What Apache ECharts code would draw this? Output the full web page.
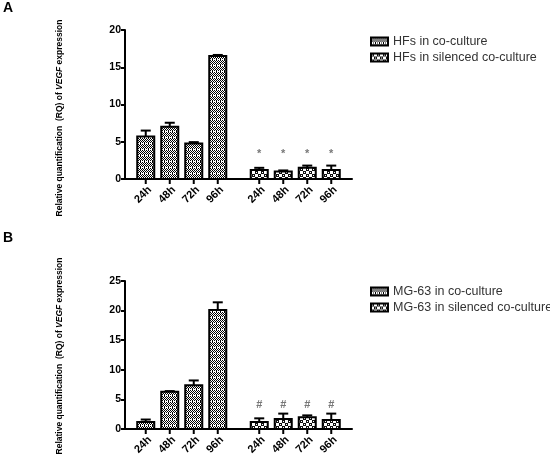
<!DOCTYPE html>
<html><head><meta charset="utf-8">
<script src="https://cdn.jsdelivr.net/npm/echarts@6/dist/echarts.min.js"></script>
<style>html,body{margin:0;padding:0;background:#fff}#c{width:550px;height:465px}</style>
</head><body><div id="c"></div>
<script>
// ---- data ----
const timeLabels = ['24h', '48h', '72h', '96h'];
const groupKeys = ['co', 'silenced'];
const hfCo = [5.7, 7.0, 4.75, 16.5];
const hfCoErr = [0.8, 0.55, 0.2, 0.15];
const hfSil = [1.2, 1.0, 1.5, 1.2];
const hfSilErr = [0.3, 0.15, 0.3, 0.6];
const hfSilMarks = ['*', '*', '*', '*'];
const hfMarkLevel = 3.3;
const mgCo = [1.2, 6.3, 7.4, 20.1];
const mgCoErr = [0.4, 0.1, 0.8, 1.3];
const mgSil = [1.2, 1.7, 2.0, 1.5];
const mgSilErr = [0.6, 0.9, 0.3, 1.1];
const mgSilMarks = ['#', '#', '#', '#'];
const mgMarkLevel = 4.0;
const hfNames = ['HFs in co-culture', 'HFs in silenced co-culture'];
const mgNames = ['MG-63 in co-culture', 'MG-63 in silenced co-culture'];
const yTicksA = {max: 20, interval: 5};
const yTicksB = {max: 25, interval: 5};

// ---- patterns ----
function makePattern(kind) {
  const cv = document.createElement('canvas');
  if (kind === 'dense') {
    cv.width = 4; cv.height = 6;
    const ctx = cv.getContext('2d');
    ctx.fillStyle = '#fff'; ctx.fillRect(0, 0, 4, 6);
    ctx.fillStyle = '#000';
    for (let y = 0; y < 6; y++) for (let x = 0; x < 4; x++) {
      if (y === 5) { if (x === 0) ctx.fillRect(x, y, 1, 1); continue; }
      if ((x + y) % 2 === 0) ctx.fillRect(x, y, 1, 1);
    }
  } else {
    cv.width = 6; cv.height = 6;
    const ctx = cv.getContext('2d');
    ctx.fillStyle = '#fff'; ctx.fillRect(0, 0, 6, 6);
    ctx.fillStyle = '#111';
    ctx.fillRect(0, 0, 3, 3);
    ctx.fillRect(3, 3, 3, 3);
    ctx.fillStyle = '#fff';
    ctx.fillRect(1, 1, 1, 1);
    ctx.fillRect(4, 4, 1, 1);
  }
  return {image: cv, repeat: 'repeat'};
}
const patDense = makePattern('dense');
const patCheck = makePattern('check');

const STEP = 0.2115;   // bar spacing as fraction of group band
const BARW = 0.15;     // bar width as fraction of group band

function makeRender(fill, marks, markLevel) {
  return function (params, api) {
    const g = api.value(0), t = api.value(1), v = api.value(2), e = api.value(3);
    const base = api.coord([g, 0]);
    const band = api.size([1, 0])[0];
    const cx = base[0] + (t - 1.5) * band * STEP;
    const bw = band * BARW;
    const y0 = base[1];
    const yv = api.coord([g, v])[1];
    const ye = api.coord([g, v + e])[1];
    const children = [
      {type: 'rect', shape: {x: cx - bw / 2, y: yv, width: bw, height: y0 - yv},
       style: {fill: fill, stroke: '#000', lineWidth: 2}},
      {type: 'line', shape: {x1: cx, y1: yv, x2: cx, y2: ye}, style: {stroke: '#000', lineWidth: 2}},
      {type: 'line', shape: {x1: cx - 5, y1: ye, x2: cx + 5, y2: ye}, style: {stroke: '#000', lineWidth: 2}},
      {type: 'line', shape: {x1: cx, y1: y0, x2: cx, y2: y0 + 5}, style: {stroke: '#000', lineWidth: 2}},
      {type: 'text', x: cx + 4, y: y0 + 9, rotation: Math.PI / 4,
       style: {text: timeLabels[t], font: 'bold 11px "Liberation Sans", Arial, sans-serif',
               fill: '#000', align: 'right', verticalAlign: 'middle'}}
    ];
    if (marks) {
      const ym = api.coord([g, markLevel])[1];
      children.push({type: 'text', x: cx, y: ym,
        style: {text: marks[t], font: 'bold 11px "Liberation Sans", Arial, sans-serif', fill: '#777',
                align: 'center', verticalAlign: 'middle'}});
    }
    return {type: 'group', children: children};
  };
}

function seriesData(g, vals, errs) {
  return vals.map((v, i) => [g, i, v, errs[i]]);
}

const tickFont = {fontWeight: 'bold', fontSize: 10.5, color: '#000', fontFamily: '"Liberation Sans", Arial, sans-serif'};

function xAx(gi) {
  return {type: 'category', gridIndex: gi, data: groupKeys, boundaryGap: true,
    axisLine: {lineStyle: {color: '#000', width: 2}}, axisTick: {show: false}, axisLabel: {show: false}, splitLine: {show: false}};
}
function yAx(gi, t) {
  return {type: 'value', gridIndex: gi, min: 0, max: t.max, interval: t.interval,
    axisLine: {show: true, lineStyle: {color: '#000', width: 2}},
    axisTick: {show: true, length: 4, lineStyle: {color: '#000', width: 2}},
    axisLabel: Object.assign({margin: 4}, tickFont), splitLine: {show: false}};
}

const legendText = {fontSize: 12.5, color: '#333', fontFamily: '"Liberation Sans", Arial, sans-serif'};
function legend(names, top) {
  return {orient: 'vertical', left: 365, top: top, itemWidth: 17, itemHeight: 8, itemGap: 3,
    textStyle: legendText, selectedMode: false,
    data: [
      {name: names[0], icon: 'rect', itemStyle: {color: patDense, borderColor: '#000', borderWidth: 2}},
      {name: names[1], icon: 'rect', itemStyle: {color: patCheck, borderColor: '#000', borderWidth: 2}}
    ]};
}

const titleFont = 'bold 8.5px "Liberation Sans", Arial, sans-serif';
function yTitle(cx, cy) {
  return {type: 'text', x: cx, y: cy, rotation: Math.PI / 2,
    style: {text: '{n|Relative quantification  (RQ) of }{i|VEGF}{n| expression}',
      rich: {n: {font: titleFont, fill: '#000'}, i: {font: 'italic ' + titleFont, fill: '#000'}},
      align: 'center', verticalAlign: 'middle'}};
}

const chart = echarts.init(document.getElementById('c'));
chart.setOption({
  animation: false,
  backgroundColor: '#fff',
  grid: [
    {left: 125, width: 227, top: 30, height: 149},
    {left: 125, width: 227, top: 281, height: 148}
  ],
  xAxis: [xAx(0), xAx(1)],
  yAxis: [yAx(0, yTicksA), yAx(1, yTicksB)],
  legend: [legend(hfNames, 30), legend(mgNames, 280)],
  graphic: [
    {type: 'text', x: 3, y: 1, style: {text: 'A', font: 'bold 14px "Liberation Sans", Arial, sans-serif', fill: '#000'}},
    {type: 'text', x: 3, y: 231, style: {text: 'B', font: 'bold 14px "Liberation Sans", Arial, sans-serif', fill: '#000'}},
    yTitle(60, 118),
    yTitle(60, 356)
  ],
  series: [
    {type: 'custom', name: hfNames[0], xAxisIndex: 0, yAxisIndex: 0, encode: {x: 0, y: 2},
     renderItem: makeRender(patDense, null, 0), data: seriesData(0, hfCo, hfCoErr)},
    {type: 'custom', name: hfNames[1], xAxisIndex: 0, yAxisIndex: 0, encode: {x: 0, y: 2},
     renderItem: makeRender(patCheck, hfSilMarks, hfMarkLevel), data: seriesData(1, hfSil, hfSilErr)},
    {type: 'custom', name: mgNames[0], xAxisIndex: 1, yAxisIndex: 1, encode: {x: 0, y: 2},
     renderItem: makeRender(patDense, null, 0), data: seriesData(0, mgCo, mgCoErr)},
    {type: 'custom', name: mgNames[1], xAxisIndex: 1, yAxisIndex: 1, encode: {x: 0, y: 2},
     renderItem: makeRender(patCheck, mgSilMarks, mgMarkLevel), data: seriesData(1, mgSil, mgSilErr)}
  ]
});
</script>
</body></html>
